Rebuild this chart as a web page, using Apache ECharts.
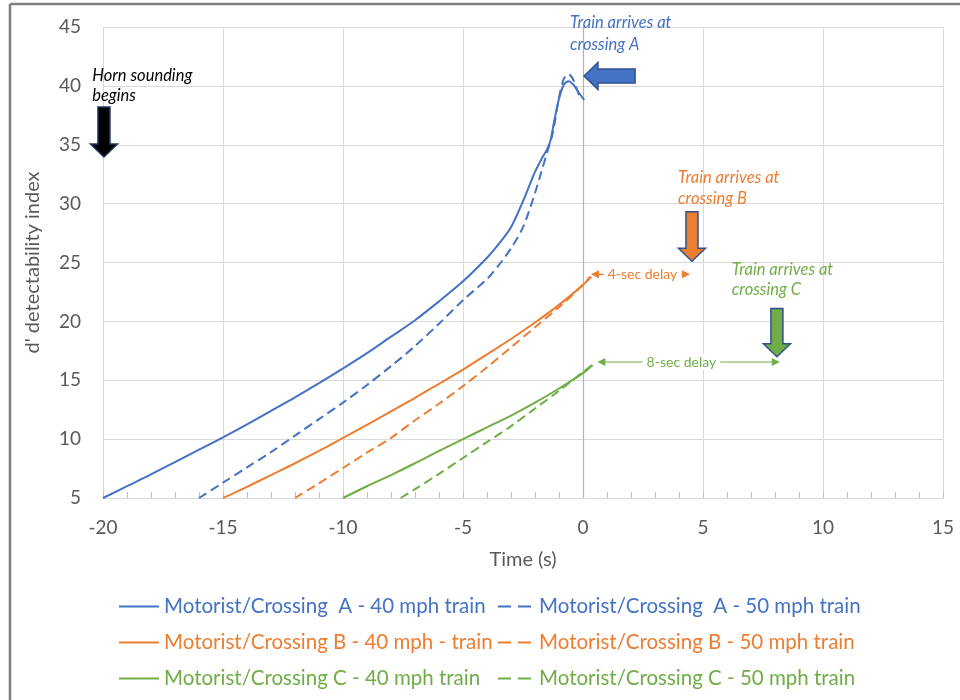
<!DOCTYPE html>
<html><head><meta charset="utf-8">
<script src="https://cdn.jsdelivr.net/npm/echarts@6/dist/echarts.min.js"></script>
<style>html,body{margin:0;padding:0;background:#fff}#c{width:960px;height:700px}</style>
</head><body><div id="c"></div>
<script>
const seriesNames = [
  'Motorist/Crossing  A - 40 mph train',
  'Motorist/Crossing  A - 50 mph train',
  'Motorist/Crossing B - 40 mph - train',
  'Motorist/Crossing B - 50 mph train',
  'Motorist/Crossing C - 40 mph train',
  'Motorist/Crossing C - 50 mph train'
];
const crossingA40 = [[-20,5.0],[-19,6.0],[-18,7.0],[-17,8.05],[-16,9.1],[-15,10.15],[-14,11.25],[-13,12.4],[-12,13.55],[-11,14.75],[-10,16.0],[-9,17.3],[-8,18.7],[-7,20.1],[-6,21.7],[-5,23.4],[-4,25.4],[-3.5,26.6],[-3,28.0],[-2.5,30.2],[-2.0,32.7],[-1.7,33.9],[-1.5,34.6],[-1.35,35.4],[-1.2,37.0],[-1.0,38.9],[-0.8,40.1],[-0.6,40.4],[-0.4,40.1],[-0.2,39.5],[0.05,38.8]];
const crossingA50 = [[-16,5.0],[-15,6.3],[-14,7.6],[-13,8.9],[-12,10.3],[-11,11.7],[-10,13.1],[-9,14.6],[-8,16.2],[-7,17.9],[-6,19.8],[-5,21.8],[-4,23.6],[-3.5,24.8],[-3,26.2],[-2.5,28.0],[-2.0,30.9],[-1.75,32.6],[-1.5,34.3],[-1.25,36.1],[-1.0,39.0],[-0.8,40.6],[-0.6,41.0],[-0.4,40.5],[-0.15,39.1]];
const crossingB40 = [[-15,5.0],[-14,5.95],[-13,6.95],[-12,7.95],[-11,9.0],[-10,10.1],[-9,11.2],[-8,12.35],[-7,13.5],[-6,14.7],[-5,15.9],[-4,17.2],[-3,18.5],[-2,19.9],[-1,21.4],[0,23.1],[0.35,23.8]];
const crossingB50 = [[-12,5.0],[-11,6.25],[-10,7.55],[-9,8.85],[-8,10.1],[-7,11.6],[-6,13.0],[-5,14.5],[-4,16.1],[-3,17.8],[-2,19.5],[-1,21.2],[0,23.1],[0.3,23.8]];
const crossingC40 = [[-10,5.0],[-9,6.0],[-8,6.95],[-7,7.95],[-6,9.0],[-5,10.0],[-4,11.0],[-3,12.0],[-2,13.1],[-1,14.3],[0,15.6],[0.4,16.3]];
const crossingC50 = [[-7.6,5.0],[-7,5.75],[-6,7.05],[-5,8.4],[-4,9.75],[-3,11.1],[-2,12.6],[-1,14.1],[0,15.7],[0.45,16.4]];

const annotationLabels = [
  {lines:['Horn sounding','begins'], x:-20.45, y:[40.9,39.2], color:'#000000'},
  {lines:['Train arrives at','crossing A'], x:-0.54, y:[45.4,43.5], color:'#4472C4'},
  {lines:['Train arrives at','crossing B'], x:3.96, y:[32.2,30.4], color:'#ED7D31'},
  {lines:['Train arrives at','crossing C'], x:6.2, y:[24.4,22.7], color:'#70AD47'}
];
const downArrows = [
  {x:-19.96, top:38.2, tip:33.96, fill:'#000000', stroke:'#1F3864'},
  {x:4.54, top:29.3, tip:25.1, fill:'#ED7D31', stroke:'#2F528F'},
  {x:8.08, top:21.1, tip:17.0, fill:'#70AD47', stroke:'#2F528F'}
];
const leftArrowA = {tipX:0.04, tailX:2.17, y:40.84, fill:'#4472C4', stroke:'#2F528F'};
const delays = [
  {text:'4-sec delay', x0:0.33, x1:4.46, xt:2.48, y:24.0, color:'#ED7D31'},
  {text:'8-sec delay', x0:0.6, x1:8.2, xt:4.1, y:16.55, color:'#70AD47'}
];

const colors = ['#4472C4','#4472C4','#ED7D31','#ED7D31','#70AD47','#70AD47'];
const dashed = [false,true,false,true,false,true];
const allData = [crossingA40,crossingA50,crossingB40,crossingB50,crossingC40,crossingC50];
const FONT = 'Lato';

const chart = echarts.init(document.getElementById('c'), null, {renderer:'canvas'});

const series = allData.map((d,i)=>({
  name: seriesNames[i], type:'line', data:d, symbol:'none', smooth:0.3,
  color: colors[i],
  lineStyle:{color:colors[i], width:2, type: dashed[i] ? [9,5] : 'solid'},
  emphasis:{disabled:true}, z:3
}));
series[0].markLine = {silent:true, symbol:'none', label:{show:false}, lineStyle:{color:'#b3b3b3', type:'solid', width:1.2}, data:[{xAxis:0}], z:1};

const rowTops = [596,632,668];
const legends = seriesNames.map((n,i)=>({
  data:[n], left: i%2===0 ? 118 : 497, top: rowTops[Math.floor(i/2)], padding:0,
  itemWidth: i%2===0 ? 40 : 36, itemHeight: 14, selectedMode:false,
  itemStyle:{opacity:0, borderWidth:0},
  lineStyle: dashed[i] ? {type:[13,7], width:2} : {width:2},
  textStyle:{color:colors[i], fontSize:20.5, fontFamily:FONT}
}));

chart.setOption({
  animation:false,
  backgroundColor:'#ffffff',
  grid:{left:103, right:17, top:27, bottom:202, containLabel:false},
  xAxis:{type:'value', min:-20, max:15, interval:5,
    name:'Time (s)', nameLocation:'middle', nameGap:52,
    nameTextStyle:{color:'#595959', fontSize:20, fontFamily:FONT},
    axisLine:{onZero:false, lineStyle:{color:'#d9d9d9', width:1}},
    axisTick:{show:true, inside:true, length:6, lineStyle:{color:'#bfbfbf'}},
    minorTick:{show:true, splitNumber:5, length:6, lineStyle:{color:'#bfbfbf'}},
    axisLabel:{color:'#595959', fontSize:19, fontFamily:FONT, margin:20},
    splitLine:{show:true, lineStyle:{color:'#d9d9d9', width:1}}
  },
  yAxis:{type:'value', min:5, max:45, interval:5,
    name:"d' detectability index", nameLocation:'middle', nameGap:60,
    nameTextStyle:{color:'#595959', fontSize:20, fontFamily:FONT},
    axisLine:{show:false}, axisTick:{show:false},
    axisLabel:{color:'#595959', fontSize:19, fontFamily:FONT, margin:22},
    splitLine:{show:true, lineStyle:{color:'#d9d9d9', width:1}}
  },
  legend: legends,
  series: series
});

function px(x,y){ return chart.convertToPixel({gridIndex:0},[x,y]); }
const g = [];
g.push({type:'line', shape:{x1:10,y1:4,x2:960,y2:4}, style:{stroke:'#7f7f7f', lineWidth:2.5}, z:10});
g.push({type:'line', shape:{x1:10,y1:4,x2:10,y2:700}, style:{stroke:'#7f7f7f', lineWidth:2.5}, z:10});
annotationLabels.forEach(a=>{
  a.lines.forEach((t,k)=>{
    const p = px(a.x, a.y[k]);
    g.push({type:'text', x:p[0], y:p[1], z:10, style:{text:t, fill:a.color, font:'italic 16.5px '+FONT, textAlign:'left', textVerticalAlign:'middle'}});
  });
});
downArrows.forEach(a=>{
  const t = px(a.x, a.top), b = px(a.x, a.tip);
  const cx = t[0], sw = 12, hw = 27, hl = 13;
  const pts = [[cx-sw/2,t[1]],[cx+sw/2,t[1]],[cx+sw/2,b[1]-hl],[cx+hw/2,b[1]-hl],[cx,b[1]],[cx-hw/2,b[1]-hl],[cx-sw/2,b[1]-hl]];
  g.push({type:'polygon', shape:{points:pts}, style:{fill:a.fill, stroke:a.stroke, lineWidth:1.5}, z:10});
});
(function(){
  const a = leftArrowA; const tp = px(a.tipX, a.y), tl = px(a.tailX, a.y);
  const tx = tp[0], ty = tp[1], sw = 14, hw = 27, hl = 14;
  const pts = [[tx,ty],[tx+hl,ty-hw/2],[tx+hl,ty-sw/2],[tl[0],ty-sw/2],[tl[0],ty+sw/2],[tx+hl,ty+sw/2],[tx+hl,ty+hw/2]];
  g.push({type:'polygon', shape:{points:pts}, style:{fill:a.fill, stroke:a.stroke, lineWidth:1.5}, z:10});
})();
delays.forEach(d=>{
  const p0 = px(d.x0, d.y), p1 = px(d.x1, d.y), pt = px(d.xt, d.y);
  const y = p0[1];
  g.push({type:'line', shape:{x1:p0[0]+6,y1:y,x2:p1[0]-6,y2:y}, style:{stroke:d.color, lineWidth:1.2}, z:10});
  g.push({type:'polygon', shape:{points:[[p0[0],y],[p0[0]+8,y-4],[p0[0]+8,y+4]]}, style:{fill:d.color}, z:10});
  g.push({type:'polygon', shape:{points:[[p1[0],y],[p1[0]-8,y-4],[p1[0]-8,y+4]]}, style:{fill:d.color}, z:10});
  g.push({type:'text', x:pt[0], y:y, z:11, style:{text:d.text, fill:d.color, font:'14px '+FONT, textAlign:'center', textVerticalAlign:'middle', backgroundColor:'#ffffff', padding:[1,4]}});
});
chart.setOption({graphic:g});
</script></body></html>
